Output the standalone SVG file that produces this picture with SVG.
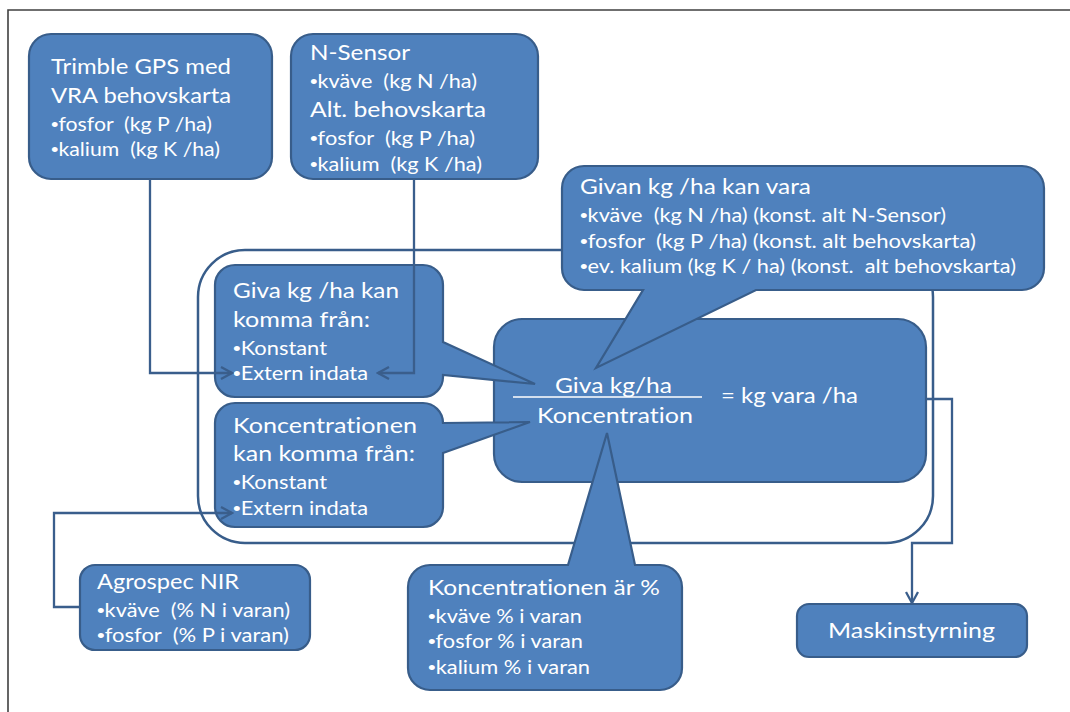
<svg xmlns="http://www.w3.org/2000/svg" width="1070" height="712" viewBox="0 0 1070 712">
  <defs>
    <style>
      .box { fill: #4F81BD; stroke: #385D8A; stroke-width: 2.2; }
      .frame { fill: none; stroke: #404040; stroke-width: 1.6; }
      .group-outline { fill: none; stroke: #385D8A; stroke-width: 2.5; }
      .conn { fill: none; stroke: #3A5E8C; stroke-width: 2.3; }
      .t { font-family: Lato, "Liberation Sans", Arial, sans-serif; fill: #FFFFFF; white-space: pre; font-variant-ligatures: none; font-feature-settings: "liga" 0, "clig" 0, "dlig" 0, "hlig" 0; }
      .b { font-family: "Liberation Sans", Arial, sans-serif; }
      .big { font-size: 22px; }
      .small { font-size: 18.5px; }
    </style>
    <marker id="arrow" markerWidth="14" markerHeight="14" refX="12" refY="7" orient="auto" markerUnits="userSpaceOnUse">
      <path d="M1,1 L12,7 L1,13" fill="none" stroke="#3A5E8C" stroke-width="2.3"/>
    </marker>
  </defs>

  <rect width="1070" height="712" fill="#FFFFFF"/>
  <!-- page border -->
  <path class="frame" d="M8,712 V10 H1070"/>

  <!-- rounded outline grouping the calculation area -->
  <rect id="calc-area" class="group-outline" x="198" y="250" width="735" height="293" rx="47" ry="47"/>

  <g id="node-trimble">
    <rect class="box" x="29" y="34" width="243" height="145" rx="22" ry="22"/>
    <text class="t big" x="51" y="74" textLength="180" lengthAdjust="spacingAndGlyphs">Trimble GPS med</text>
    <text class="t big" x="51" y="103" textLength="180" lengthAdjust="spacingAndGlyphs">VRA behovskarta</text>
    <text class="t small" x="51" y="131" textLength="161" lengthAdjust="spacingAndGlyphs"><tspan class="b">•</tspan>fosfor  (kg P /ha)</text>
    <text class="t small" x="51" y="156" textLength="169" lengthAdjust="spacingAndGlyphs"><tspan class="b">•</tspan>kalium  (kg K /ha)</text>
  </g>

  <g id="node-nsensor">
    <rect class="box" x="291" y="34" width="247" height="145" rx="22" ry="22"/>
    <text class="t big" x="310" y="60" textLength="100" lengthAdjust="spacingAndGlyphs">N-Sensor</text>
    <text class="t small" x="310" y="88" textLength="167" lengthAdjust="spacingAndGlyphs"><tspan class="b">•</tspan>kväve  (kg N /ha)</text>
    <text class="t big" x="310" y="117" textLength="176" lengthAdjust="spacingAndGlyphs">Alt. behovskarta</text>
    <text class="t small" x="310" y="145" textLength="165" lengthAdjust="spacingAndGlyphs"><tspan class="b">•</tspan>fosfor  (kg P /ha)</text>
    <text class="t small" x="310" y="171" textLength="172" lengthAdjust="spacingAndGlyphs"><tspan class="b">•</tspan>kalium  (kg K /ha)</text>
  </g>

  <g id="node-formula">
    <rect class="box" x="494" y="319" width="432" height="163" rx="28" ry="28"/>
    <text class="t big" x="555" y="393" textLength="117" lengthAdjust="spacingAndGlyphs">Giva kg/ha</text>
    <line x1="513" y1="397" x2="702" y2="397" stroke="#FFFFFF" stroke-width="1.6"/>
    <text class="t big" x="537" y="423" textLength="156" lengthAdjust="spacingAndGlyphs">Koncentration</text>
    <text class="t big" x="721" y="403" textLength="137" lengthAdjust="spacingAndGlyphs">= kg vara /ha</text>
  </g>

  <g id="node-giva-source">
    <path class="box" d="M235,265 H423 A20,20 0 0 1 443,285 V342 L535,384 L443,375 V377 A20,20 0 0 1 423,397 H235 A20,20 0 0 1 215,377 V285 A20,20 0 0 1 235,265 Z"/>
    <text class="t big" x="233" y="298" textLength="166" lengthAdjust="spacingAndGlyphs">Giva kg /ha kan</text>
    <text class="t big" x="233" y="327" textLength="137" lengthAdjust="spacingAndGlyphs">komma från:</text>
    <text class="t small" x="233" y="355" textLength="94" lengthAdjust="spacingAndGlyphs"><tspan class="b">•</tspan>Konstant</text>
    <text class="t small" x="233" y="380" textLength="135" lengthAdjust="spacingAndGlyphs"><tspan class="b">•</tspan>Extern indata</text>
  </g>

  <g id="node-konc-source">
    <path class="box" d="M235,403 H423 A20,20 0 0 1 443,423 L530,422 L443,453 V507 A20,20 0 0 1 423,527 H235 A20,20 0 0 1 215,507 V423 A20,20 0 0 1 235,403 Z"/>
    <text class="t big" x="233" y="433" textLength="184" lengthAdjust="spacingAndGlyphs">Koncentrationen</text>
    <text class="t big" x="233" y="461" textLength="182" lengthAdjust="spacingAndGlyphs">kan komma från:</text>
    <text class="t small" x="233" y="489" textLength="94" lengthAdjust="spacingAndGlyphs"><tspan class="b">•</tspan>Konstant</text>
    <text class="t small" x="233" y="515" textLength="135" lengthAdjust="spacingAndGlyphs"><tspan class="b">•</tspan>Extern indata</text>
  </g>

  <g id="node-givan">
    <path class="box" d="M584,166 H1022 A22,22 0 0 1 1044,188 V268 A22,22 0 0 1 1022,290 H756 L596,368 L643,290 H584 A22,22 0 0 1 562,268 V188 A22,22 0 0 1 584,166 Z"/>
    <text class="t big" x="580" y="194" textLength="231" lengthAdjust="spacingAndGlyphs">Givan kg /ha kan vara</text>
    <text class="t small" x="580" y="222" textLength="366" lengthAdjust="spacingAndGlyphs"><tspan class="b">•</tspan>kväve  (kg N /ha) (konst. alt N-Sensor)</text>
    <text class="t small" x="580" y="248" textLength="396" lengthAdjust="spacingAndGlyphs"><tspan class="b">•</tspan>fosfor  (kg P /ha) (konst. alt behovskarta)</text>
    <text class="t small" x="580" y="273" textLength="436" lengthAdjust="spacingAndGlyphs"><tspan class="b">•</tspan>ev. kalium (kg K / ha) (konst.  alt behovskarta)</text>
  </g>

  <g id="node-konc-percent">
    <path class="box" d="M430,565 H568 L607,433 L635,565 H660 A22,22 0 0 1 682,587 V668 A22,22 0 0 1 660,690 H430 A22,22 0 0 1 408,668 V587 A22,22 0 0 1 430,565 Z"/>
    <text class="t big" x="428" y="595" textLength="232" lengthAdjust="spacingAndGlyphs">Koncentrationen är %</text>
    <text class="t small" x="428" y="623" textLength="154" lengthAdjust="spacingAndGlyphs"><tspan class="b">•</tspan>kväve % i varan</text>
    <text class="t small" x="428" y="648" textLength="155" lengthAdjust="spacingAndGlyphs"><tspan class="b">•</tspan>fosfor % i varan</text>
    <text class="t small" x="428" y="674" textLength="162" lengthAdjust="spacingAndGlyphs"><tspan class="b">•</tspan>kalium % i varan</text>
  </g>

  <g id="node-agrospec">
    <rect class="box" x="80" y="565" width="230" height="85" rx="15" ry="15"/>
    <text class="t big" x="97" y="589" textLength="142" lengthAdjust="spacingAndGlyphs">Agrospec NIR</text>
    <text class="t small" x="97" y="617" textLength="193" lengthAdjust="spacingAndGlyphs"><tspan class="b">•</tspan>kväve  (% N i varan)</text>
    <text class="t small" x="97" y="642" textLength="192" lengthAdjust="spacingAndGlyphs"><tspan class="b">•</tspan>fosfor  (% P i varan)</text>
  </g>

  <g id="node-maskin">
    <rect class="box" x="797" y="604" width="230" height="53" rx="12" ry="12"/>
    <text class="t big" x="828" y="638" textLength="167" lengthAdjust="spacingAndGlyphs">Maskinstyrning</text>
  </g>

  <g id="connectors">
    <path class="conn" d="M150,179 V373 H232" marker-end="url(#arrow)"/>
    <path class="conn" d="M414,179 V373 H378" marker-end="url(#arrow)"/>
    <path class="conn" d="M80,607 H54 V513 H232" marker-end="url(#arrow)"/>
    <path class="conn" d="M926,399 H952 V543 H912 V603" marker-end="url(#arrow)"/>
  </g>
</svg>
